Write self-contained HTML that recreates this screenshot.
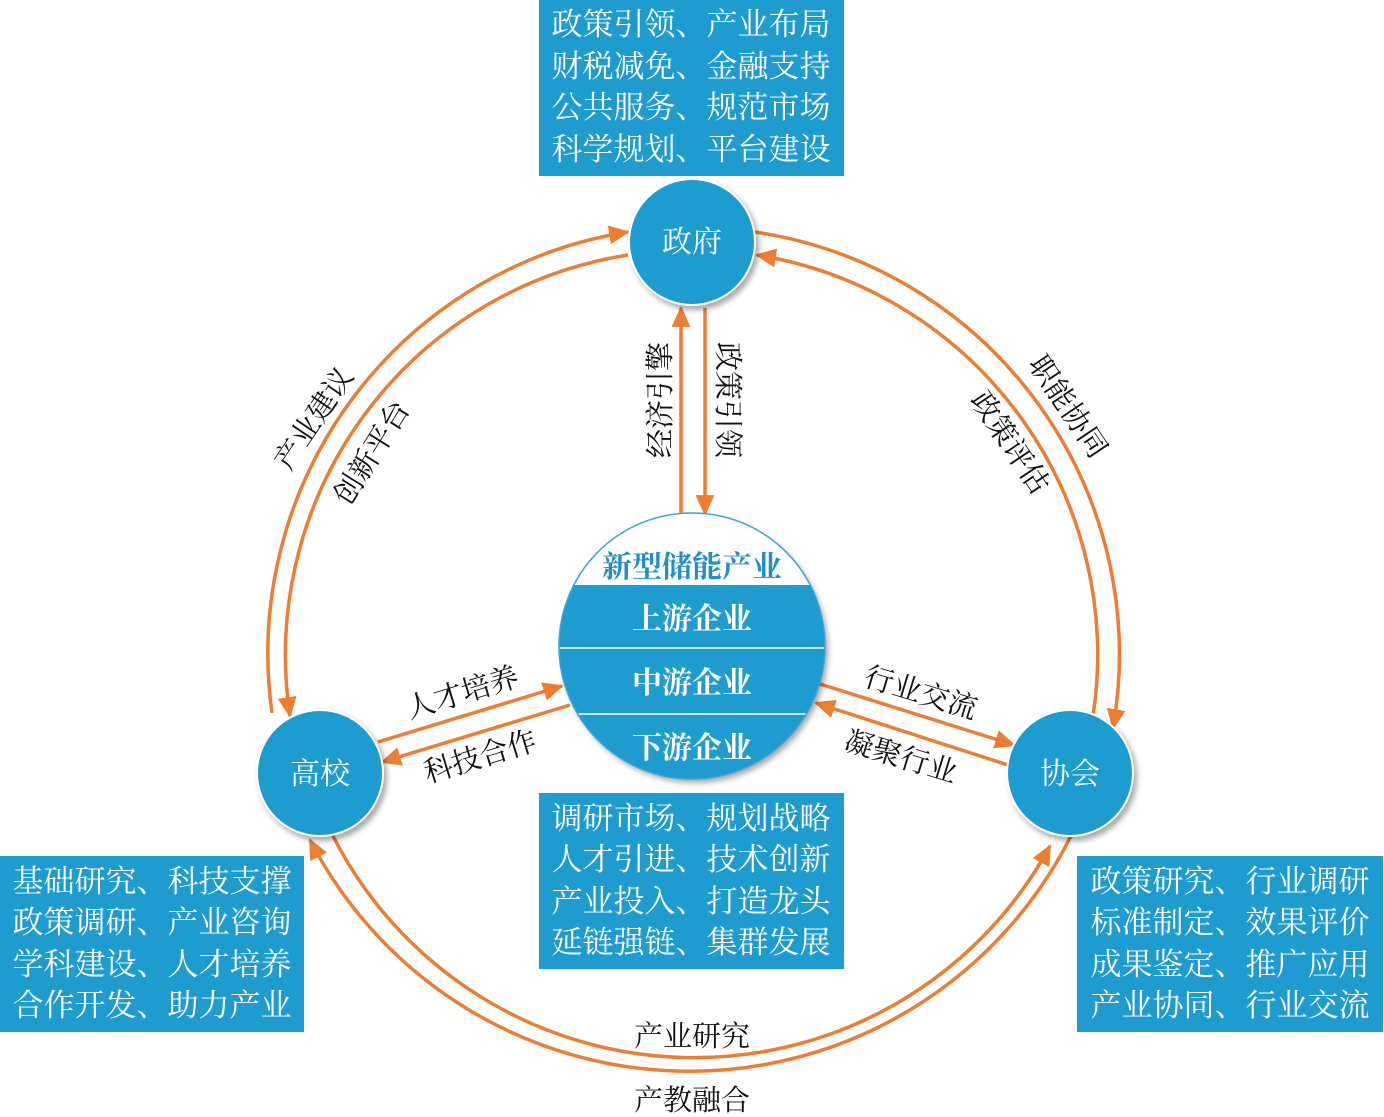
<!DOCTYPE html>
<html><head><meta charset="utf-8"><style>
html,body{margin:0;padding:0;background:#fff;}
svg{display:block}
.box{fill:#1f9ccf}
.bt{fill:#fff;font-family:"Liberation Serif","Noto Serif CJK SC",serif;font-size:31px;}
.lb{fill:#111;font-family:"Liberation Serif","Noto Serif CJK SC",serif;font-size:29px;}
.ln{stroke:#ed7d31;stroke-width:3.5;fill:none}
</style></head><body>
<svg width="1384" height="1117" viewBox="0 0 1384 1117">
<defs>
<marker id="a" viewBox="0 0 10 10" refX="9" refY="5" markerWidth="6" markerHeight="6" orient="auto" markerUnits="strokeWidth"><path d="M0,0.5 L10,5 L0,9.5 z" fill="#ed7d31"/></marker>
<clipPath id="cc"><circle cx="692" cy="646" r="133"/></clipPath>
<filter id="sh" x="-20%" y="-20%" width="140%" height="140%"><feDropShadow dx="3" dy="4" stdDeviation="3" flood-color="#000" flood-opacity="0.35"/></filter>
</defs>

<rect class="box" x="539" y="0" width="305" height="176"/>
<text class="bt" x="691" y="35" text-anchor="middle">政策引领、产业布局</text>
<text class="bt" x="691" y="77" text-anchor="middle">财税减免、金融支持</text>
<text class="bt" x="691" y="118" text-anchor="middle">公共服务、规范市场</text>
<text class="bt" x="691" y="160" text-anchor="middle">科学规划、平台建设</text>

<rect class="box" x="539" y="793" width="305" height="176"/>
<text class="bt" x="691" y="829" text-anchor="middle">调研市场、规划战略</text>
<text class="bt" x="691" y="870" text-anchor="middle">人才引进、技术创新</text>
<text class="bt" x="691" y="912" text-anchor="middle">产业投入、打造龙头</text>
<text class="bt" x="691" y="953" text-anchor="middle">延链强链、集群发展</text>

<rect class="box" x="0" y="856" width="304" height="176"/>
<text class="bt" x="152" y="892" text-anchor="middle">基础研究、科技支撑</text>
<text class="bt" x="152" y="933" text-anchor="middle">政策调研、产业咨询</text>
<text class="bt" x="152" y="975" text-anchor="middle">学科建设、人才培养</text>
<text class="bt" x="152" y="1016" text-anchor="middle">合作开发、助力产业</text>

<rect class="box" x="1077" y="856" width="306" height="176"/>
<text class="bt" x="1230" y="892" text-anchor="middle">政策研究、行业调研</text>
<text class="bt" x="1230" y="933" text-anchor="middle">标准制定、效果评价</text>
<text class="bt" x="1230" y="975" text-anchor="middle">成果鉴定、推广应用</text>
<text class="bt" x="1230" y="1016" text-anchor="middle">产业协同、行业交流</text>

<path class="ln" marker-end="url(#a)" d="M272,713 A427,427 0 0 1 628,232"/>
<path class="ln" marker-end="url(#a)" d="M628,255 A405,405 0 0 0 290,716"/>
<path class="ln" marker-end="url(#a)" d="M755,232 A427,427 0 0 1 1113,728"/>
<path class="ln" marker-end="url(#a)" d="M1093,716 A405,405 0 0 0 757,255"/>
<path class="ln" marker-end="url(#a)" d="M332,834 A405,405 0 0 0 1050,846"/>
<path class="ln" marker-end="url(#a)" d="M1071,836 A427,427 0 0 1 310,840"/>

<path class="ln" marker-end="url(#a)" d="M681,517 L681,308"/>
<path class="ln" marker-end="url(#a)" d="M705,308 L705,514"/>
<path class="ln" marker-end="url(#a)" d="M378,742 L562,686"/>
<path class="ln" marker-end="url(#a)" d="M570,705 L382,762"/>
<path class="ln" marker-end="url(#a)" d="M820,684 L1014,745"/>
<path class="ln" marker-end="url(#a)" d="M1008,765 L816,703"/>

<g filter="url(#sh)">
<circle cx="692" cy="242" r="63" fill="#1f9ccf" stroke="#fff" stroke-width="2"/>
<circle cx="320" cy="773" r="63" fill="#1f9ccf" stroke="#fff" stroke-width="2"/>
<circle cx="1070" cy="773" r="63" fill="#1f9ccf" stroke="#fff" stroke-width="2"/>
<circle cx="692" cy="646" r="133" fill="#fff"/>
</g>
<g clip-path="url(#cc)">
<rect x="550" y="585" width="290" height="200" fill="#1f9ccf"/>
<line x1="550" y1="648" x2="840" y2="648" stroke="#fff" stroke-width="1.5"/>
<line x1="550" y1="714" x2="840" y2="714" stroke="#fff" stroke-width="1.5"/>
</g>
<circle cx="692" cy="646" r="133" fill="none" stroke="#3aa5d6" stroke-width="1.5"/>
<g font-family="Liberation Serif,Noto Serif CJK SC,serif" font-size="30" text-anchor="middle">
<text x="692" y="252" fill="#fff">政府</text>
<text x="320" y="784" fill="#fff">高校</text>
<text x="1070" y="784" fill="#fff">协会</text>
<text x="692" y="577" fill="#1f8fc4" font-weight="bold">新型储能产业</text>
<text x="692" y="629" fill="#fff" font-weight="bold">上游企业</text>
<text x="692" y="693" fill="#fff" font-weight="bold">中游企业</text>
<text x="692" y="758" fill="#fff" font-weight="bold">下游企业</text>
</g>

<g class="lb" text-anchor="middle">
<text transform="translate(670,400) rotate(-90)" class="lb">经济引擎</text>
<text transform="translate(718,400) rotate(90)" class="lb">政策引领</text>
<text transform="translate(322,424) rotate(-56)" class="lb">产业建议</text>
<text transform="translate(380,458) rotate(-58)" class="lb">创新平台</text>
<text transform="translate(1060,412) rotate(56)" class="lb">职能协同</text>
<text transform="translate(1002,448) rotate(56)" class="lb">政策评估</text>
<text transform="translate(465,702) rotate(-17)" class="lb">人才培养</text>
<text transform="translate(483,766) rotate(-17)" class="lb">科技合作</text>
<text transform="translate(918,702) rotate(17)" class="lb">行业交流</text>
<text transform="translate(898,766) rotate(17)" class="lb">凝聚行业</text>
<text x="692" y="1046" class="lb">产业研究</text>
<text x="692" y="1110" class="lb">产教融合</text>
</g>
</svg>
</body></html>
